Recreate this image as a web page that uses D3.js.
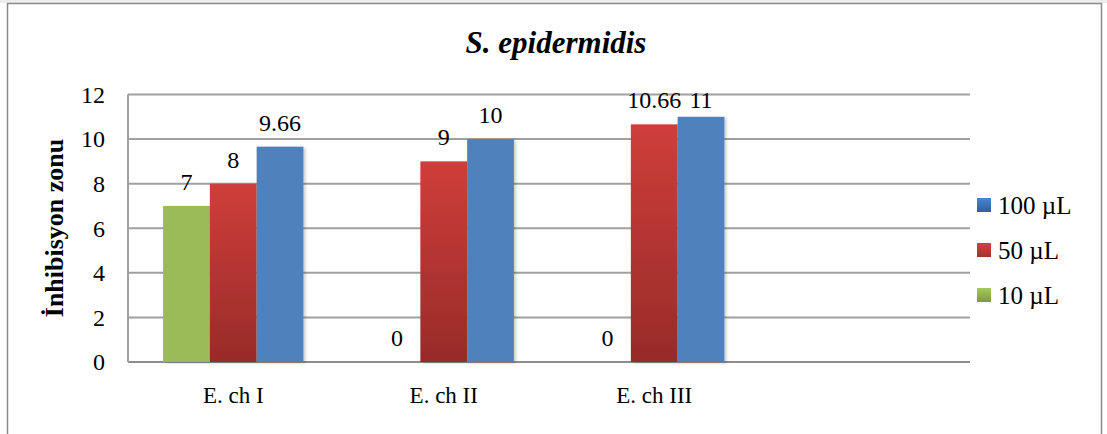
<!DOCTYPE html>
<html>
<head>
<meta charset="utf-8">
<script src="https://cdn.jsdelivr.net/npm/d3@7"></script>
<style>
  body { margin: 0; background: #fff; }
  svg text { font-family: "Liberation Serif", "Times New Roman", Times, serif; fill: #000; }
</style>
</head>
<body>
<svg id="chart" width="1107" height="434"></svg>
<script>
// data
const categories = ["E. ch I", "E. ch II", "E. ch III", ""];
const seriesNames = ["10 µL", "50 µL", "100 µL"];
const vals10 = [7, 0, 0];
const vals50 = [8, 9, 10.66];
const vals100 = [9.66, 10, 11];
const yTicks = [0, 2, 4, 6, 8, 10, 12];

const serif = "'Liberation Serif', 'Times New Roman', serif";

const series = [
    {name: seriesNames[0], values: vals10, top: "#9bbb59", bottom: "#9bbb59", lg: ["#a5c956", "#7f9a3f"]},
    {name: seriesNames[1], values: vals50, top: "#cf3e3a", bottom: "#972b29", lg: ["#d44240", "#a3302d"]},
    {name: seriesNames[2], values: vals100, top: "#4f81bd", bottom: "#4f81bd", lg: ["#4a86d0", "#2f5f9e"]}
];

const svg = d3.select("#chart");
const margin = {top: 94.5, left: 128, right: 137, bottom: 72};
const width = 1107 - margin.left - margin.right;
const height = 434 - margin.top - margin.bottom;

// faint band at top and chart border
svg.append("rect").attr("x", 0).attr("y", 0).attr("width", 1107).attr("height", 3).attr("fill", "#ececec");
svg.append("rect")
    .attr("x", 7.5).attr("y", 3.5)
    .attr("width", 1094).attr("height", 440)
    .attr("fill", "#fff")
    .attr("stroke", "#8a8a8a")
    .attr("stroke-width", 1.5);

const defs = svg.append("defs");
series.forEach((s, i) => {
    const g = defs.append("linearGradient").attr("id", "bar" + i)
        .attr("x1", 0).attr("y1", 0).attr("x2", 0).attr("y2", 1);
    g.append("stop").attr("offset", "0%").attr("stop-color", s.top);
    g.append("stop").attr("offset", "100%").attr("stop-color", s.bottom);
    const l = defs.append("linearGradient").attr("id", "leg" + i)
        .attr("x1", 0).attr("y1", 0).attr("x2", 0).attr("y2", 1);
    l.append("stop").attr("offset", "0%").attr("stop-color", s.lg[0]);
    l.append("stop").attr("offset", "100%").attr("stop-color", s.lg[1]);
});
const shadow = defs.append("filter").attr("id", "shadow")
    .attr("x", "-20%").attr("y", "-10%").attr("width", "140%").attr("height", "120%");
shadow.append("feDropShadow").attr("dx", 2).attr("dy", 1).attr("stdDeviation", 1.5)
    .attr("flood-color", "#000").attr("flood-opacity", 0.2);

const g = svg.append("g").attr("transform", "translate(" + margin.left + "," + margin.top + ")");

const x = d3.scaleBand().domain(categories.map((c, i) => i)).range([0, width]).padding(0);
// Excel style gap width 150%: outer padding 0.75 of a bar on each side
const x1 = d3.scaleBand().domain(series.map((s, i) => i))
    .range([0, x.bandwidth()]).paddingInner(0).paddingOuter(0.75);
const y = d3.scaleLinear().domain([0, 12]).range([height, 0]);

// gridlines
g.selectAll(".grid").data(yTicks).enter().append("line")
    .attr("x1", 0).attr("x2", width)
    .attr("y1", d => y(d)).attr("y2", d => y(d))
    .attr("stroke", d => d === 0 ? "#8c8c8c" : "#a0a0a0")
    .attr("stroke-width", 2);
g.append("line").attr("x1", 0).attr("x2", 0).attr("y1", 0).attr("y2", height)
    .attr("stroke", "#a0a0a0").attr("stroke-width", 2);

// y tick labels
g.selectAll(".ytick").data(yTicks).enter().append("text")
    .attr("x", -23).attr("y", d => y(d)).attr("dy", "0.35em")
    .attr("text-anchor", "end").attr("font-size", 24)
    .style("font-family", serif)
    .text(d => d);

// bars
series.forEach((s, si) => {
    const gs = g.append("g");
    gs.selectAll("rect").data(s.values).enter().append("rect")
        .attr("x", (d, i) => x(i) + x1(si))
        .attr("width", x1.bandwidth())
        .attr("y", d => y(d))
        .attr("height", d => height - y(d))
        .attr("fill", "url(#bar" + si + ")")
        .attr("filter", "url(#shadow)");
    // labels are kept inside the plot area, like Excel does
    gs.selectAll("text").data(s.values).enter().append("text")
        .attr("x", (d, i) => x(i) + x1(si) + x1.bandwidth() / 2)
        .attr("y", d => Math.max(y(d) - 16, 13))
        .attr("text-anchor", "middle").attr("font-size", 24)
        .style("font-family", serif)
        .text(d => d);
});

// category labels
g.selectAll(".cat").data(categories).enter().append("text")
    .attr("x", (d, i) => x(i) + x.bandwidth() / 2)
    .attr("y", height + 41)
    .attr("text-anchor", "middle").attr("font-size", 23)
    .style("font-family", serif)
    .text(d => d);

// title
svg.append("text").attr("x", 556).attr("y", 53)
    .attr("text-anchor", "middle").attr("font-size", 31)
    .attr("font-weight", "bold").attr("font-style", "italic")
    .style("font-family", serif)
    .text("S. epidermidis");

// y axis title
svg.append("text")
    .attr("transform", "translate(63,228) rotate(-90)")
    .attr("text-anchor", "middle").attr("font-size", 26).attr("font-weight", "bold")
    .style("font-family", serif)
    .text("İnhibisyon zonu");

// legend
const legendOrder = [2, 1, 0];
const lg = svg.append("g").attr("transform", "translate(977,205)");
legendOrder.forEach((si, k) => {
    lg.append("rect").attr("x", 0).attr("y", k * 45 - 7).attr("width", 14).attr("height", 14)
        .attr("fill", "url(#leg" + si + ")");
    lg.append("text").attr("x", 21).attr("y", k * 45).attr("dy", "0.35em")
        .attr("font-size", 25)
        .style("font-family", serif)
        .text(series[si].name);
});
</script>
</body>
</html>
